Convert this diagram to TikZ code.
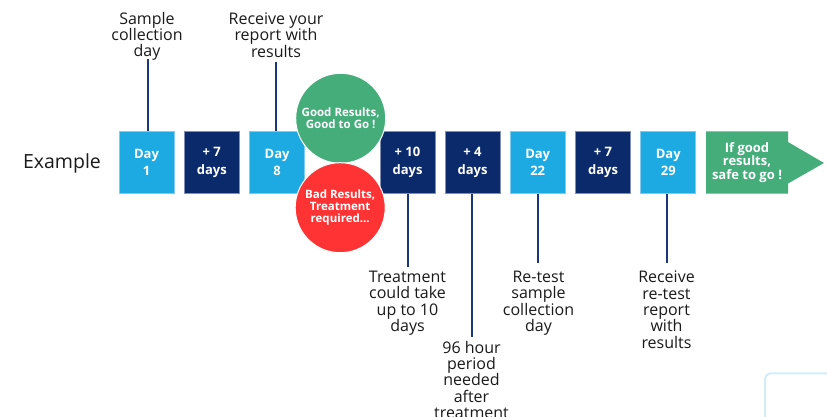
\documentclass[tikz,border=0pt]{standalone}
\usepackage{fontspec}
\setmainfont{Open Sans}
\usetikzlibrary{positioning}
\definecolor{lightbox}{HTML}{1DAAE2}
\definecolor{lightedge}{HTML}{7FCCEE}
\definecolor{navybox}{HTML}{0B2A6B}
\definecolor{navyedge}{HTML}{7F8FB5}
\definecolor{goodgreen}{HTML}{45AD7A}
\definecolor{badred}{HTML}{FF3333}
\definecolor{linecol}{HTML}{1C3778}
\definecolor{txtcol}{HTML}{1A1A1A}
\definecolor{cornercol}{HTML}{D3ECF8}
\tikzset{
  daybox/.style={rectangle, fill=lightbox, draw=lightedge, line width=0.8pt, minimum width=55pt, minimum height=62pt, inner sep=0pt, text=white, align=center, font=\bfseries\fontsize{13}{17.7}\selectfont},
  gapbox/.style={daybox, fill=navybox, draw=navyedge},
  tick/.style={draw=linecol, line width=1.8pt},
  note/.style={text=txtcol, align=center, inner sep=0pt, anchor=north, font=\fontsize{16}{16.3}\selectfont},
  resultcircle/.style={circle, draw=white, line width=1pt, minimum size=90pt, inner sep=0pt, text=white, align=center, font=\bfseries\fontsize{11.5}{12}\selectfont}
}
\begin{document}
\begin{tikzpicture}[x=1pt, y=-1pt]
\useasboundingbox (0,0) rectangle (827,417);
\fill[white] (0,0) rectangle (827,417);

\node[text=txtcol, font=\fontsize{19.5}{22}\selectfont, inner sep=0pt] (ex) at (62,163) {Example};

\node[daybox] (b1) at (146.5,162.5) {Day\\1};
\node[gapbox] (b2) at (211.8,162.5) {+ 7\\days};
\node[daybox] (b3) at (277.1,162.5) {Day\\8};
\node[gapbox] (b4) at (407.5,162.5) {+ 10\\days};
\node[gapbox] (b5) at (472.5,162.5) {+ 4\\days};
\node[daybox] (b6) at (537.7,162.5) {Day\\22};
\node[gapbox] (b7) at (603,162.5) {+ 7\\days};
\node[daybox] (b8) at (668.3,162.5) {Day\\29};

% final arrow
\fill[goodgreen] (706,131.5) -- (788,131.5) -- (788,142) -- (824,163) -- (788,183.5) -- (788,193.5) -- (706,193.5) -- cycle;
\node[text=white, align=center, inner sep=0pt, font=\bfseries\fontsize{13}{13.3}\selectfont] (go) at (747,162.5) {If good\\results,\\safe to go !};

% circles
\node[resultcircle, fill=goodgreen] (good) at (340.7,118.3) {Good Results,\\Good to Go !};
\node[resultcircle, fill=badred] (bad) at (340.2,207.7) {Bad Results,\\Treatment\\required...};

% top notes
\coordinate (t1) at (147.7,59);
\coordinate (t3) at (276.3,62);
\draw[tick] (b1.north -| t1) -- (t1);
\draw[tick] (b3.north -| t3) -- (t3);
\node[note] (n1) at (147,11.8) {Sample\\collection\\day};
\node[note] (n3) at (276,12.5) {Receive your\\report with\\results};

% bottom notes
\coordinate (t4) at (407.7,266.7);
\coordinate (t5) at (471.7,336.7);
\coordinate (t6) at (538.3,262.7);
\coordinate (t8) at (666.7,262.7);
\draw[tick] (b4.south -| t4) -- (t4);
\draw[tick] (b5.south -| t5) -- (t5);
\draw[tick] (b6.south -| t6) -- (t6);
\draw[tick] (b8.south -| t8) -- (t8);
\node[note] (n4) at (407.5,271) {Treatment\\could take\\up to 10\\days};
\node[note] (n5) at (471.5,341) {96 hour\\period\\needed\\after\\treatment};
\node[note] (n6) at (538.5,271) {Re-test\\sample\\collection\\day};
\node[note] (n8) at (666.5,271) {Receive\\re-test\\report\\with\\results};

% faint corner of a panel at the bottom right
\draw[cornercol, line width=2pt, rounded corners=6pt] (840,373.3) -- (765,373.3) -- (765,430);
\end{tikzpicture}
\end{document}
